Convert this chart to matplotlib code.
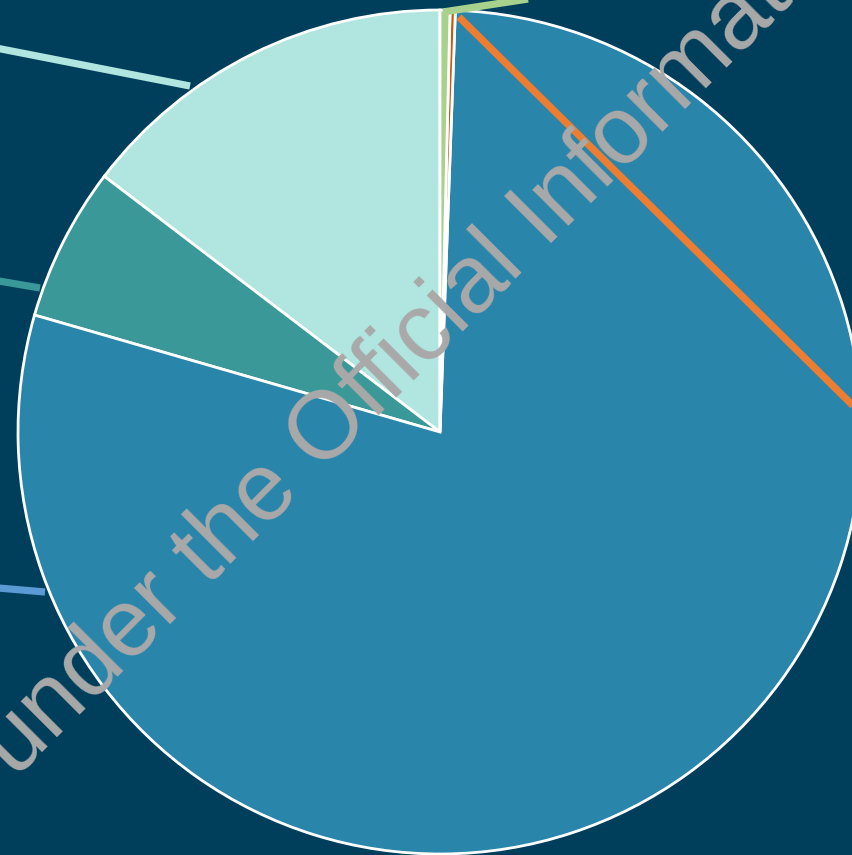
import numpy as np
import matplotlib
matplotlib.use("Agg")
import matplotlib.pyplot as plt

# ============================================================
# DATA  (shares in %, counter-clockwise from 12 o'clock)
# ============================================================

categories = ["Light teal", "Teal", "Blue", "Orange", "Green"]
shares     = [14.64, 5.89, 78.89, 0.20, 0.38]
colors     = ["#b1e5e0", "#3a9998", "#2a85ab", "#c55a11", "#a9d18e"]

# leader lines to labels that sit outside the crop (start on rim, end outside)
leader_colors = ["#b1e5e0", "#3a9998", "#5b9bd5", "#ed7d31", "#a9d18e"]
leader_start  = [(190, 769), (40, 567), (45, 263), (459, 838), (443, 843)]
leader_end    = [(-60, 818), (-60, 584), (-60, 272), (900, 403), (600, 867)]

watermark = "under the Official Information Act 1982"

# ============================================================
# PLOT
# ============================================================

bg = "#003f5c"
fig = plt.figure(figsize=(8.52, 8.55), dpi=100, facecolor=bg)
ax = fig.add_axes([0, 0, 1, 1])
ax.set_facecolor(bg)

ax.pie(shares, colors=colors, startangle=90, counterclock=True,
       center=(440, 423), radius=422, frame=True,
       wedgeprops=dict(edgecolor="white", linewidth=2))

for c, s, e in zip(leader_colors, leader_start, leader_end):
    ax.plot([s[0], e[0]], [s[1], e[1]], color=c, linewidth=5.2,
            solid_capstyle="butt")

ax.text(15, 76, watermark, rotation=45, rotation_mode="anchor",
        ha="left", va="baseline", fontsize=69, color="#a9a9a9",
        family="Liberation Sans")

ax.set_xlim(0, 852)
ax.set_ylim(0, 855)
ax.set_aspect("equal")
ax.axis("off")

fig.savefig("out.png", dpi=100, facecolor=bg)
